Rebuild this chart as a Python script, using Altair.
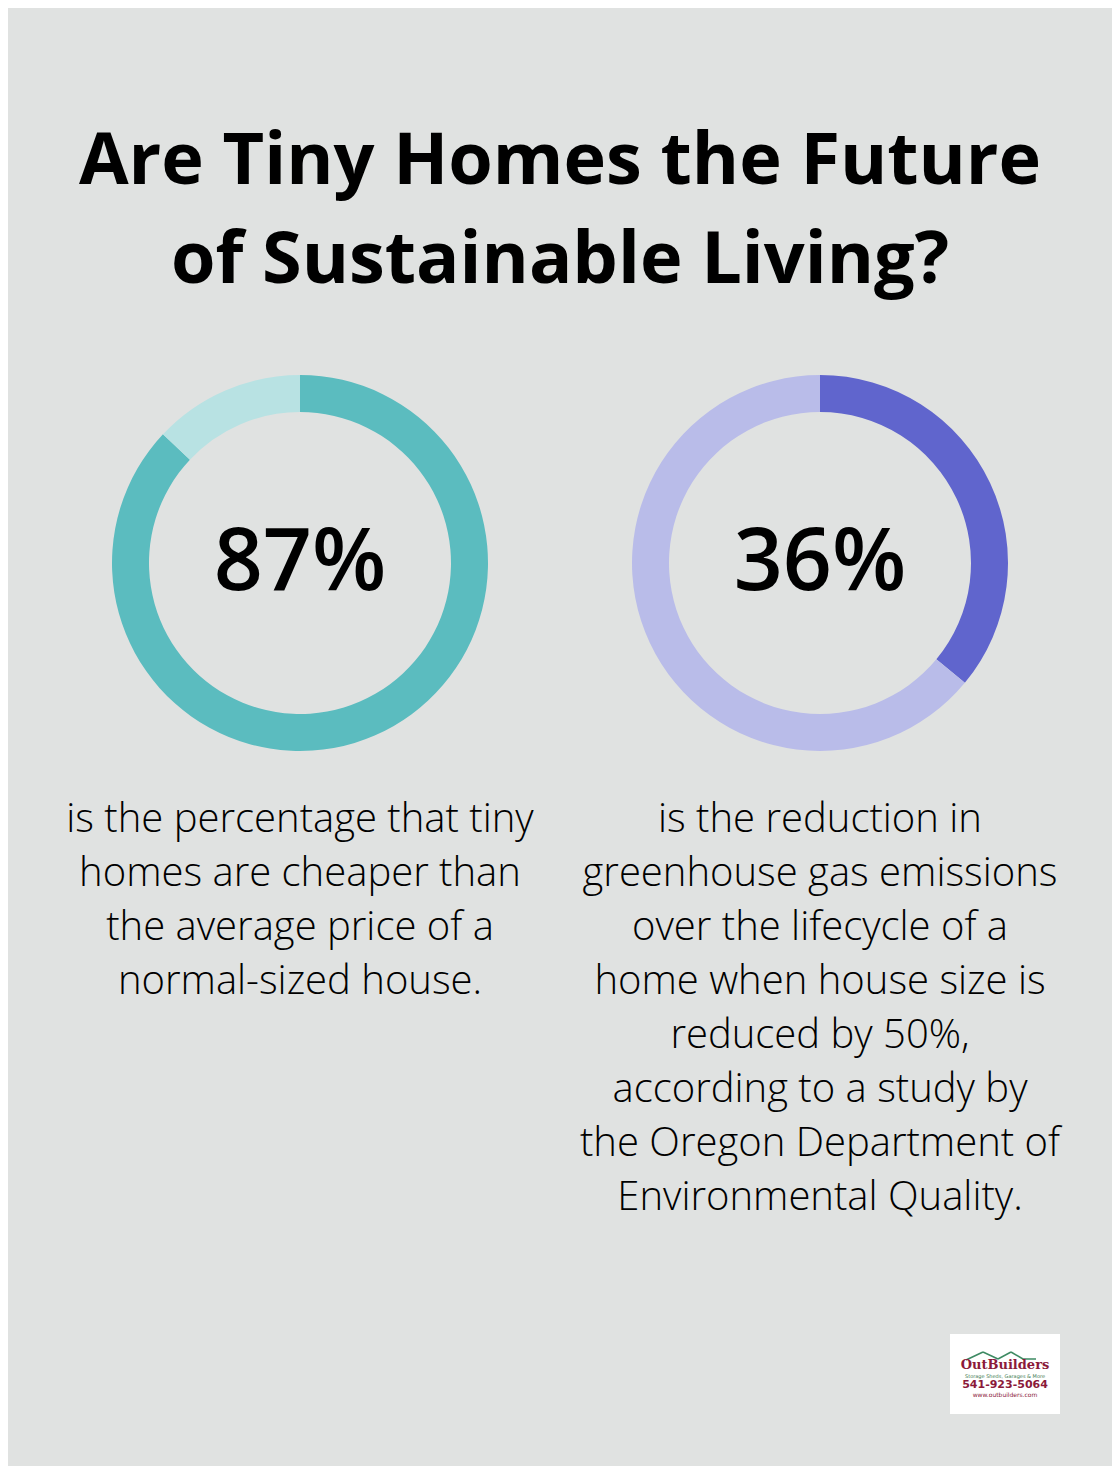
import altair as alt
import pandas as pd

# ---- data ----
title_lines = ["Are Tiny Homes the Future", "of Sustainable Living?"]
stat_values = [87, 36]
stat_labels = ["87%", "36%"]
left_desc = ["is the percentage that tiny", "homes are cheaper than",
             "the average price of a", "normal-sized house."]
right_desc = ["is the reduction in", "greenhouse gas emissions",
              "over the lifecycle of a", "home when house size is",
              "reduced by 50%,", "according to a study by",
              "the Oregon Department of", "Environmental Quality."]
logo_lines = ["OutBuilders", "Storage Sheds, Garages & More", "541-923-5064", "www.outbuilders.com"]

BG = "#e0e2e1"
W, H = 1104, 1458
FONT = "Open Sans"

def donut(value, cx, cy, main, light):
    df = pd.DataFrame({"part": ["main", "rest"], "v": [value, 100 - value],
                       "o": [0, 1], "c": [main, light]})
    return alt.Chart(df).mark_arc(radius=188, radius2=151, stroke=None).encode(
        theta=alt.Theta("v:Q", stack=True),
        order=alt.Order("o:Q"),
        color=alt.Color("c:N", scale=None),
        x=alt.value(cx), y=alt.value(cy),
    )

def text_block(lines, cx, y0, size, weight, lh):
    df = pd.DataFrame({"t": ["\n".join(lines)]})
    return alt.Chart(df).mark_text(
        font=FONT, fontSize=size, fontWeight=weight, color="#000000",
        align="center", baseline="alphabetic", lineBreak="\n", lineHeight=lh,
    ).encode(text="t:N", x=alt.value(cx), y=alt.value(y0))

layers = []
layers.append(text_block(title_lines, 552, 176, 72, "bold", 99))
layers.append(donut(stat_values[0], 292, 555, "#5bbcbf", "#b8e2e3"))
layers.append(donut(stat_values[1], 812, 555, "#6065cd", "#b9bce9"))
layers.append(text_block([stat_labels[0]], 292, 582, 86, 600, 90))
layers.append(text_block([stat_labels[1]], 812, 582, 86, 600, 90))
layers.append(text_block(left_desc, 292, 824, 40, 300, 54))
layers.append(text_block(right_desc, 812, 824, 40, 300, 54))

# logo
logo_bg = alt.Chart(pd.DataFrame({"a": [1]})).mark_rect(color="white").encode(
    x=alt.value(942), x2=alt.value(1052), y=alt.value(1326), y2=alt.value(1406))
layers.append(logo_bg)
roof_df = pd.DataFrame({"x": [958, 975, 990, 1003, 1015],
                        "x2": [975, 990, 1003, 1015, 1028],
                        "y": [1352, 1344, 1351, 1344, 1351],
                        "y2": [1344, 1351, 1344, 1351, 1351]})
layers.append(alt.Chart(roof_df).mark_rule(color="#3d8a62", strokeWidth=1.5).encode(
    x=alt.X("x:Q", scale=None), x2="x2:Q", y=alt.Y("y:Q", scale=None), y2="y2:Q"))
def logo_text(t, y, size, color, weight="bold", font="DejaVu Serif"):
    return alt.Chart(pd.DataFrame({"t": [t]})).mark_text(
        font=font, fontSize=size, fontWeight=weight, color=color, align="center",
        baseline="alphabetic").encode(text="t:N", x=alt.value(997), y=alt.value(y))
layers.append(logo_text(logo_lines[0], 1361, 13, "#8b1a3a"))
layers.append(logo_text(logo_lines[1], 1369.5, 5, "#3d7a52", "normal", "DejaVu Sans"))
layers.append(logo_text(logo_lines[2], 1380, 11, "#8b1a3a", "bold", "DejaVu Sans"))
layers.append(logo_text(logo_lines[3], 1389, 6, "#8b1a3a", "normal", "DejaVu Sans"))

chart = alt.layer(*layers).properties(
    width=W, height=H, background=BG, padding=0,
    autosize=alt.AutoSizeParams(type="none"),
).configure_view(stroke=None)

chart.save("out.html", embed_options={"renderer": "svg", "actions": False})
